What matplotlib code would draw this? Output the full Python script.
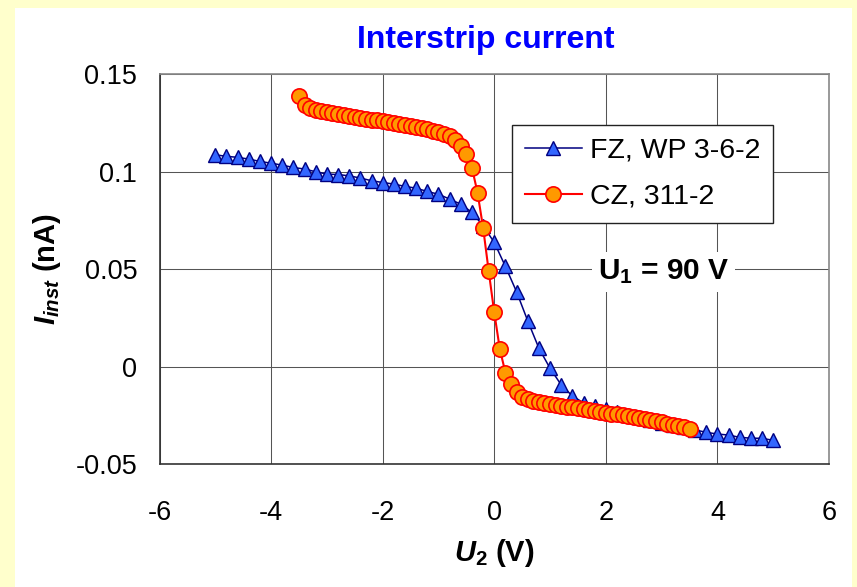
import matplotlib
matplotlib.use("Agg")
import matplotlib.pyplot as plt
from matplotlib.patches import Rectangle

plt.rcParams['font.family'] = ['Liberation Sans', 'DejaVu Sans']
plt.rcParams['mathtext.fontset'] = 'custom'
plt.rcParams['mathtext.rm'] = 'Liberation Sans:bold'
plt.rcParams['mathtext.it'] = 'Liberation Sans:italic:bold'
plt.rcParams['mathtext.bf'] = 'Liberation Sans:bold'

# FZ, WP 3-6-2 (blue triangles)
fz_u = [-5.0, -4.8, -4.6, -4.4, -4.2, -4.0, -3.8, -3.6, -3.4, -3.2,
        -3.0, -2.8, -2.6, -2.4, -2.2, -2.0, -1.8, -1.6, -1.4, -1.2,
        -1.0, -0.8, -0.6, -0.4, -0.2, 0.0, 0.2, 0.4, 0.6, 0.8,
        1.0, 1.2, 1.4, 1.6, 1.8, 2.0, 2.2, 2.4, 2.6, 2.8,
        3.0, 3.2, 3.4, 3.6, 3.8, 4.0, 4.2, 4.4, 4.6, 4.8, 5.0]
fz_i = [0.1086, 0.1078, 0.1073, 0.1064, 0.1052, 0.1043, 0.1033, 0.1021, 0.1013, 0.0999,
        0.0987, 0.0985, 0.0978, 0.0967, 0.0953, 0.0944, 0.0936, 0.0924, 0.0915, 0.0898,
        0.0884, 0.0859, 0.0833, 0.0791, 0.0722, 0.0637, 0.0514, 0.0384, 0.0235, 0.0095,
        -0.0008, -0.0093, -0.0150, -0.0185, -0.0202, -0.0216, -0.0230, -0.0245, -0.0259, -0.0273,
        -0.0286, -0.0298, -0.0311, -0.0324, -0.0336, -0.0345, -0.0350, -0.0362, -0.0366, -0.0367,
        -0.0377]

# CZ, 311-2 (orange circles)
cz_u = [-3.5, -3.4, -3.3, -3.2, -3.1, -3.0, -2.9, -2.8, -2.7, -2.6,
        -2.5, -2.4, -2.3, -2.2, -2.1, -2.0, -1.9, -1.8, -1.7, -1.6,
        -1.5, -1.4, -1.3, -1.2, -1.1, -1.0, -0.9, -0.8, -0.7, -0.6,
        -0.5, -0.4, -0.3, -0.2, -0.1, 0.0, 0.1, 0.2, 0.3, 0.4,
        0.5, 0.6, 0.7, 0.8, 0.9, 1.0, 1.1, 1.2, 1.3, 1.4,
        1.5, 1.6, 1.7, 1.8, 1.9, 2.0, 2.1, 2.2, 2.3, 2.4,
        2.5, 2.6, 2.7, 2.8, 2.9, 3.0, 3.1, 3.2, 3.3, 3.4, 3.5]
cz_i = [0.1387, 0.1340, 0.1325, 0.1317, 0.1310, 0.1303, 0.1298, 0.1293, 0.1288, 0.1283,
        0.1280, 0.1275, 0.1270, 0.1266, 0.1262, 0.1258, 0.1253, 0.1249, 0.1244, 0.1239,
        0.1234, 0.1228, 0.1222, 0.1216, 0.1210, 0.1203, 0.1194, 0.1180, 0.1160, 0.1130,
        0.1089, 0.1020, 0.0892, 0.0713, 0.0491, 0.0278, 0.0090, -0.0030, -0.0090, -0.0132,
        -0.0155, -0.0166, -0.0174, -0.0180, -0.0185, -0.0190, -0.0195, -0.0199, -0.0204, -0.0208,
        -0.0213, -0.0217, -0.0222, -0.0226, -0.0231, -0.0235, -0.0240, -0.0244, -0.0249, -0.0254,
        -0.0259, -0.0264, -0.0269, -0.0274, -0.0279, -0.0285, -0.0291, -0.0297, -0.0303, -0.0310,
        -0.0318]

x_ticks = [-6, -4, -2, 0, 2, 4, 6]
x_labels = ['-6', '-4', '-2', '0', '2', '4', '6']
y_ticks = [-0.05, 0, 0.05, 0.1, 0.15]
y_labels = ['-0.05', '0', '0.05', '0.1', '0.15']

W, H = 857, 587
fig = plt.figure(figsize=(W / 100, H / 100), dpi=100)
fig.patch.set_facecolor('#FFFFCC')
fig.patches.append(Rectangle((15 / W, 0), (852 - 15) / W, 1 - 8 / H,
                             transform=fig.transFigure, facecolor='white',
                             edgecolor='none', zorder=-10))

ax = fig.add_axes([159.5 / W, 1 - 464.3 / H, (829 - 159.5) / W, (464.3 - 74) / H])
ax.set_xlim(-6, 6)
ax.set_ylim(-0.05, 0.15)
ax.set_xticks(x_ticks)
ax.set_xticklabels(x_labels)
ax.set_yticks(y_ticks)
ax.set_yticklabels(y_labels)
ax.tick_params(axis='both', length=0, labelsize=19.5)
ax.tick_params(axis='x', pad=26)
ax.tick_params(axis='y', pad=16)
ax.grid(True, color='#555555', linewidth=0.75)
ax.set_axisbelow(True)
for side in ['left', 'bottom']:
    ax.spines[side].set_color('#333333')
for side in ['top', 'right']:
    ax.spines[side].set_color('#888888')
for sp in ax.spines.values():
    sp.set_linewidth(1.2)

ax.plot(fz_u, fz_i, color='#000080', linewidth=1.1, marker='^', markersize=10,
        markerfacecolor='#3366FF', markeredgecolor='#000080', markeredgewidth=1.0,
        label='FZ, WP 3-6-2', zorder=3)
ax.plot(cz_u, cz_i, color='#FF0000', linewidth=1.5, marker='o', markersize=11,
        markerfacecolor='#FF9900', markeredgecolor='#FF0000', markeredgewidth=1.2,
        label='CZ, 311-2', zorder=4)

leg = ax.legend(loc='upper left', bbox_to_anchor=(0.5265, 0.8693), borderaxespad=0,
                fontsize=20.5, frameon=True, fancybox=False, framealpha=1,
                edgecolor='#222222', handlelength=2.0, handletextpad=0.3,
                borderpad=0.45, labelspacing=0.7)
leg.get_frame().set_linewidth(1.0)
leg.set_zorder(6)

ax.text(3.04, 0.0485, r'$\mathbf{U_1}$ = 90 V', fontsize=21.5, fontweight='bold',
        ha='center', va='center', zorder=6,
        bbox=dict(facecolor='white', edgecolor='none', pad=4))

ax.set_xlabel(r'$U_{\mathit{2}}$ (V)', fontsize=21, fontweight='bold')
ax.xaxis.set_label_coords(0.5, (464.3 - 553) / (464.3 - 74))
ax.xaxis.label.set_va('center')
ax.set_ylabel(r'$I_{inst}$ (nA)', fontsize=21, fontweight='bold')
ax.yaxis.set_label_coords((47 - 159.5) / (829 - 159.5), 0.5)
ax.yaxis.label.set_va('center')

fig.text(486 / W, 1 - 40 / H, 'Interstrip current', fontsize=23, fontweight='bold',
         color='#0000FF', ha='center', va='center')

fig.savefig('out.png', dpi=100, facecolor=fig.get_facecolor())
